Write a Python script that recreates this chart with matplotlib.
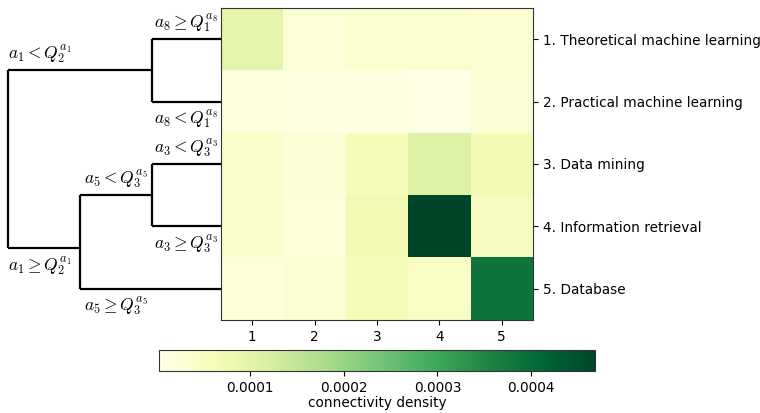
import matplotlib
matplotlib.use("Agg")
import matplotlib.pyplot as plt
import numpy as np

plt.rcParams['mathtext.fontset'] = 'cm'

topics = ["1. Theoretical machine learning", "2. Practical machine learning",
          "3. Data mining", "4. Information retrieval", "5. Database"]
col_labels = ["1", "2", "3", "4", "5"]

# connectivity density, rows/cols in topic order
density = np.array([
    [9.6e-5, 2.2e-5, 3.6e-5, 3.6e-5, 3.1e-5],
    [1.7e-5, 1.2e-5, 1.2e-5, 3.0e-6, 2.6e-5],
    [4.0e-5, 2.6e-5, 6.3e-5, 1.1e-4, 6.8e-5],
    [4.0e-5, 2.2e-5, 7.3e-5, 4.68e-4, 5.0e-5],
    [2.2e-5, 3.1e-5, 6.3e-5, 4.5e-5, 3.84e-4],
])

cbar_ticks = [0.0001, 0.0002, 0.0003, 0.0004]

# dendrogram: x of each split level (heatmap units), y of internal branches
split_x = [-3.91, -2.76, -1.61]
root_top_y = 0.5
root_bot_y = 3.35
sub34_y = 2.5

fig = plt.figure(figsize=(7.6, 4.13), dpi=100)
ax = fig.add_axes([221/760, 1 - 320/413, 312/760, 312/413])
im = ax.imshow(density, cmap="YlGn", aspect="auto",
               vmin=density.min(), vmax=density.max(), interpolation="nearest")
ax.set_xticks(range(5))
ax.set_xticklabels(col_labels, fontsize=9.8)
ax.yaxis.tick_right()
ax.set_yticks(range(5))
ax.set_yticklabels(topics, fontsize=9.8)
for s in ax.spines.values():
    s.set_color("#333333")

# dendrogram lines drawn left of heatmap
lw = 1.6
kw = dict(color="black", lw=lw, clip_on=False, solid_capstyle="butt", scalex=False, scaley=False)
leaf_x = -0.5
x0, x1, x2 = split_x
# root
ax.plot([x0, x0], [root_top_y, root_bot_y], **kw)
ax.plot([x0, x2], [root_top_y, root_top_y], **kw)
ax.plot([x0, x1], [root_bot_y, root_bot_y], **kw)
# a8 split (rows 0,1)
ax.plot([x2, x2], [0, 1], **kw)
ax.plot([x2, leaf_x], [0, 0], **kw)
ax.plot([x2, leaf_x], [1, 1], **kw)
# a5 split
ax.plot([x1, x1], [sub34_y, 4], **kw)
ax.plot([x1, x2], [sub34_y, sub34_y], **kw)
ax.plot([x1, leaf_x], [4, 4], **kw)
# a3 split (rows 2,3)
ax.plot([x2, x2], [2, 3], **kw)
ax.plot([x2, leaf_x], [2, 2], **kw)
ax.plot([x2, leaf_x], [3, 3], **kw)
ax.set_xlim(-0.5, 4.5)
ax.set_ylim(4.5, -0.5)

tk = dict(fontsize=12.5, clip_on=False, ha="center")
ax.text((x0 + x1) / 2 - 0.07, root_top_y - 0.07, r"$a_1 < Q_2^{a_1}$", va="bottom", **tk)
ax.text((x0 + x1) / 2 - 0.07, root_bot_y + 0.1, r"$a_1 \geq Q_2^{a_1}$", va="top", **tk)
ax.text((x2 + leaf_x) / 2, -0.07, r"$a_8 \geq Q_1^{a_8}$", va="bottom", **tk)
ax.text((x2 + leaf_x) / 2, 1.1, r"$a_8 < Q_1^{a_8}$", va="top", **tk)
ax.text((x2 + leaf_x) / 2, 1.93, r"$a_3 < Q_3^{a_3}$", va="bottom", **tk)
ax.text((x2 + leaf_x) / 2, 3.1, r"$a_3 \geq Q_3^{a_3}$", va="top", **tk)
ax.text((x1 + x2) / 2, sub34_y - 0.07, r"$a_5 < Q_3^{a_5}$", va="bottom", **tk)
ax.text((x1 + x2) / 2, 4.1, r"$a_5 \geq Q_3^{a_5}$", va="top", **tk)

cax = fig.add_axes([159/760, 1 - 371/413, 436/760, 21/413])
cb = fig.colorbar(im, cax=cax, orientation="horizontal")
cb.set_ticks(cbar_ticks)
cb.set_ticklabels(["%.4f" % t for t in cbar_ticks])
cb.ax.tick_params(labelsize=9.8)
cb.set_label("connectivity density", fontsize=9.8, labelpad=1)
cb.outline.set_edgecolor("#333333")

fig.savefig("out.png", dpi=100)
